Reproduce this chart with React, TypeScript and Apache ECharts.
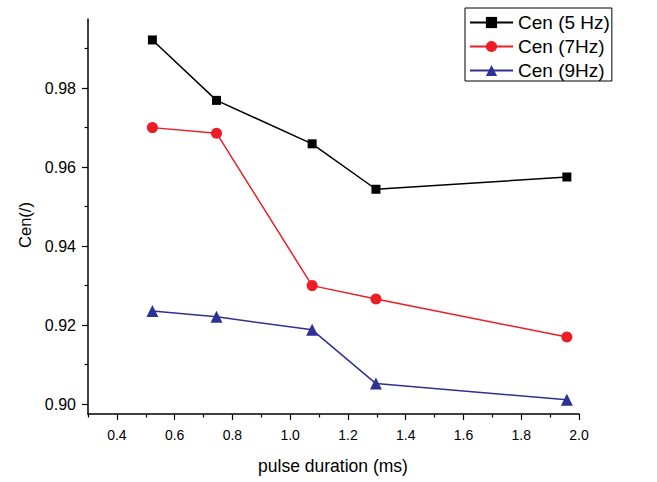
import React, { useEffect, useRef } from "react";
import * as echarts from "echarts";

// x positions as read against the printed x axis of the reference
const pulseDuration = [0.523, 0.745, 1.076, 1.297, 1.958];
const cen5Hz = [0.9922, 0.9769, 0.9659, 0.9544, 0.9575];
const cen7Hz = [0.97, 0.9686, 0.93, 0.9266, 0.917];
const cen9Hz = [0.9236, 0.9221, 0.9188, 0.9052, 0.9011];
const seriesNames = ["Cen (5 Hz)", "Cen (7Hz)", "Cen (9Hz)"];
const xMajorTicks = [0.4, 0.6, 0.8, 1.0, 1.2, 1.4, 1.6, 1.8, 2.0];
const xMinorTicks = [0.3, 0.5, 0.7, 0.9, 1.1, 1.3, 1.5, 1.7, 1.9];
const yMajorTicks = [0.9, 0.92, 0.94, 0.96, 0.98];
const yMinorTicks = [0.91, 0.93, 0.95, 0.97, 0.99];

const FONT = "Liberation Sans, Arial, sans-serif";

export default function App() {
  const ref = useRef<HTMLDivElement>(null);
  useEffect(() => {
    if (!ref.current) return;
    const chart = echarts.init(ref.current, undefined, { renderer: "svg" });
    const pair = (ys: number[]) => pulseDuration.map((x, i) => [x, ys[i]]);
    const axisLineStyle = { color: "#000", width: 1.5 };
    chart.setOption({
      animation: false,
      backgroundColor: "#fff",
      grid: { left: 88, top: 19, right: 78, bottom: 68 },
      legend: {
        left: 465,
        top: 8,
        orient: "vertical",
        data: seriesNames,
        itemWidth: 43,
        itemHeight: 14,
        itemGap: 5,
        padding: [5, 2, 1, 4],
        borderColor: "#000",
        borderWidth: 1,
        textStyle: { fontFamily: FONT, fontSize: 19, color: "#000" },
      },
      xAxis: [
        {
          type: "value",
          min: 0.3,
          max: 2.0,
          position: "bottom",
          axisLine: { show: true, onZero: false, lineStyle: axisLineStyle },
          axisTick: { show: true, customValues: xMajorTicks, length: 6, lineStyle: { color: "#000", width: 1.2 } },
          axisLabel: {
            customValues: xMajorTicks,
            formatter: (v: number) => v.toFixed(1),
            fontFamily: FONT,
            fontSize: 14,
            color: "#000",
            margin: 14,
          },
          splitLine: { show: false },
        },
        {
          type: "value",
          min: 0.3,
          max: 2.0,
          position: "bottom",
          axisLine: { show: false, onZero: false },
          axisTick: { show: true, customValues: xMinorTicks, length: 3.5, lineStyle: { color: "#000", width: 1.2 } },
          axisLabel: { show: false },
          splitLine: { show: false },
        },
      ],
      yAxis: [
        {
          type: "value",
          min: 0.8975,
          max: 0.9975,
          position: "left",
          axisLine: { show: true, onZero: false, lineStyle: axisLineStyle },
          axisTick: { show: true, customValues: yMajorTicks, length: 6, lineStyle: { color: "#000", width: 1.2 } },
          axisLabel: {
            customValues: yMajorTicks,
            formatter: (v: number) => v.toFixed(2),
            fontFamily: FONT,
            fontSize: 16,
            color: "#000",
            margin: 12,
          },
          splitLine: { show: false },
        },
        {
          type: "value",
          min: 0.8975,
          max: 0.9975,
          position: "left",
          axisLine: { show: false, onZero: false },
          axisTick: { show: true, customValues: yMinorTicks, length: 3.5, lineStyle: { color: "#000", width: 1.2 } },
          axisLabel: { show: false },
          splitLine: { show: false },
        },
      ],
      graphic: [
        {
          type: "text",
          x: 333,
          y: 466,
          style: {
            text: "pulse duration (ms)",
            fontFamily: FONT,
            fontSize: 17.5,
            fill: "#000",
            align: "center",
            verticalAlign: "middle",
          },
        },
        {
          type: "text",
          x: 25,
          y: 225,
          rotation: Math.PI / 2,
          style: {
            text: "Cen(/)",
            fontFamily: FONT,
            fontSize: 16.5,
            fill: "#000",
            align: "center",
            verticalAlign: "middle",
          },
        },
      ],
      series: [
        {
          name: seriesNames[0],
          type: "line",
          data: pair(cen5Hz),
          symbol: "rect",
          symbolSize: 9,
          itemStyle: { color: "#000" },
          lineStyle: { color: "#000", width: 1.5 },
        },
        {
          name: seriesNames[1],
          type: "line",
          data: pair(cen7Hz),
          symbol: "circle",
          symbolSize: 11,
          itemStyle: { color: "#ee1c25" },
          lineStyle: { color: "#ee1c25", width: 1.5 },
        },
        {
          name: seriesNames[2],
          type: "line",
          data: pair(cen9Hz),
          symbol: "triangle",
          symbolSize: 12,
          itemStyle: { color: "#2e3192" },
          lineStyle: { color: "#2e3192", width: 1.5 },
        },
      ],
    });
    return () => chart.dispose();
  }, []);
  return <div ref={ref} style={{ width: 657, height: 482, position: "absolute", left: 0, top: 0 }} />;
}
